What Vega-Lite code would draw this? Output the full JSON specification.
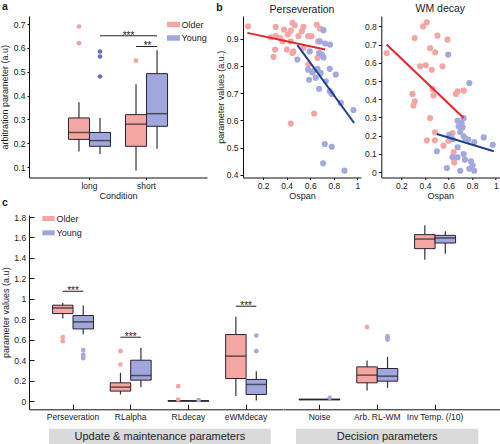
{
  "$schema": "https://vega.github.io/schema/vega-lite/v6.json",
  "background": "white",
  "padding": {"left": 0, "top": 1, "right": 0, "bottom": 0},
  "config": {
    "font": "Liberation Sans",
    "view": {"stroke": null},
    "axis": {"grid": false, "labelOverlap": false, "labelBound": false, "domainColor": "#111", "tickColor": "#111", "labelColor": "#1a1a1a", "titleColor": "#1a1a1a", "labelFontSize": 8.5, "titleFontSize": 9, "titleFontWeight": "normal", "domainWidth": 1, "tickWidth": 1},
    "title": {"fontSize": 10.5, "fontWeight": "normal", "color": "#1a1a1a"},
    "legend": {"labelFontSize": 9, "labelColor": "#1a1a1a"}
  },
  "datasets": {
    "a_box": [
      {"cond": "long", "grp": "Older", "lo": 0.165, "q1": 0.216, "med": 0.245, "q3": 0.306, "hi": 0.372},
      {"cond": "long", "grp": "Young", "lo": 0.155, "q1": 0.187, "med": 0.211, "q3": 0.245, "hi": 0.306},
      {"cond": "short", "grp": "Older", "lo": 0.085, "q1": 0.187, "med": 0.28, "q3": 0.32, "hi": 0.448},
      {"cond": "short", "grp": "Young", "lo": 0.177, "q1": 0.271, "med": 0.324, "q3": 0.492, "hi": 0.59}
    ],
    "a_out": [
      {"cond": "long", "grp": "Older", "v": 0.69},
      {"cond": "long", "grp": "Older", "v": 0.62},
      {"cond": "long", "grp": "Young", "v": 0.585},
      {"cond": "long", "grp": "Young", "v": 0.564},
      {"cond": "long", "grp": "Young", "v": 0.48},
      {"cond": "short", "grp": "Older", "v": 0.547}
    ],
    "a_sig": [
      {"pair": "s1", "cond": "long", "grp": "Young", "y": 0.651},
      {"pair": "s1", "cond": "short", "grp": "Young", "y": 0.651},
      {"pair": "s2", "cond": "short", "grp": "Older", "y": 0.606},
      {"pair": "s2", "cond": "short", "grp": "Young", "y": 0.606}
    ],
    "b1_pts": [
      {"grp": "Older", "ospan": 0.073, "val": 0.945}, {"grp": "Older", "ospan": 0.307, "val": 0.943},
      {"grp": "Older", "ospan": 0.378, "val": 0.933}, {"grp": "Older", "ospan": 0.449, "val": 0.958},
      {"grp": "Older", "ospan": 0.469, "val": 0.949}, {"grp": "Older", "ospan": 0.542, "val": 0.943},
      {"grp": "Older", "ospan": 0.655, "val": 0.951}, {"grp": "Older", "ospan": 0.683, "val": 0.937},
      {"grp": "Older", "ospan": 0.435, "val": 0.929}, {"grp": "Older", "ospan": 0.5, "val": 0.909},
      {"grp": "Older", "ospan": 0.582, "val": 0.909}, {"grp": "Older", "ospan": 0.61, "val": 0.909},
      {"grp": "Older", "ospan": 0.409, "val": 0.915}, {"grp": "Older", "ospan": 0.307, "val": 0.909},
      {"grp": "Older", "ospan": 0.344, "val": 0.902}, {"grp": "Older", "ospan": 0.265, "val": 0.905},
      {"grp": "Older", "ospan": 0.435, "val": 0.89}, {"grp": "Older", "ospan": 0.666, "val": 0.89},
      {"grp": "Older", "ospan": 0.302, "val": 0.86}, {"grp": "Older", "ospan": 0.401, "val": 0.86},
      {"grp": "Older", "ospan": 0.457, "val": 0.853}, {"grp": "Older", "ospan": 0.542, "val": 0.866},
      {"grp": "Older", "ospan": 0.661, "val": 0.829}, {"grp": "Older", "ospan": 0.288, "val": 0.833},
      {"grp": "Older", "ospan": 0.449, "val": 0.847}, {"grp": "Older", "ospan": 0.585, "val": 0.805},
      {"grp": "Older", "ospan": 0.633, "val": 0.625}, {"grp": "Older", "ospan": 0.435, "val": 0.588},
      {"grp": "Older", "ospan": 0.364, "val": 0.89}, {"grp": "Older", "ospan": 0.528, "val": 0.927},
      {"grp": "Young", "ospan": 0.712, "val": 0.931}, {"grp": "Young", "ospan": 0.681, "val": 0.89},
      {"grp": "Young", "ospan": 0.726, "val": 0.882}, {"grp": "Young", "ospan": 0.768, "val": 0.878},
      {"grp": "Young", "ospan": 0.596, "val": 0.853}, {"grp": "Young", "ospan": 0.675, "val": 0.847},
      {"grp": "Young", "ospan": 0.698, "val": 0.841}, {"grp": "Young", "ospan": 0.712, "val": 0.831},
      {"grp": "Young", "ospan": 0.491, "val": 0.823}, {"grp": "Young", "ospan": 0.582, "val": 0.786},
      {"grp": "Young", "ospan": 0.618, "val": 0.776}, {"grp": "Young", "ospan": 0.661, "val": 0.789},
      {"grp": "Young", "ospan": 0.689, "val": 0.774}, {"grp": "Young", "ospan": 0.765, "val": 0.789},
      {"grp": "Young", "ospan": 0.816, "val": 0.768}, {"grp": "Young", "ospan": 0.732, "val": 0.743},
      {"grp": "Young", "ospan": 0.59, "val": 0.749}, {"grp": "Young", "ospan": 0.647, "val": 0.756},
      {"grp": "Young", "ospan": 0.675, "val": 0.716}, {"grp": "Young", "ospan": 0.765, "val": 0.707},
      {"grp": "Young", "ospan": 0.782, "val": 0.697}, {"grp": "Young", "ospan": 0.859, "val": 0.664},
      {"grp": "Young", "ospan": 0.966, "val": 0.638}, {"grp": "Young", "ospan": 0.723, "val": 0.513},
      {"grp": "Young", "ospan": 0.782, "val": 0.503}, {"grp": "Young", "ospan": 0.709, "val": 0.442},
      {"grp": "Young", "ospan": 0.89, "val": 0.415}, {"grp": "Young", "ospan": 0.624, "val": 0.78}
    ],
    "b1_fit": [
      {"grp": "Older", "ospan": 0.067, "val": 0.921}, {"grp": "Older", "ospan": 0.726, "val": 0.86},
      {"grp": "Young", "ospan": 0.491, "val": 0.876}, {"grp": "Young", "ospan": 0.972, "val": 0.59}
    ],
    "b2_pts": [
      {"grp": "Older", "ospan": 0.075, "val": 0.654}, {"grp": "Older", "ospan": 0.313, "val": 0.736},
      {"grp": "Older", "ospan": 0.384, "val": 0.8}, {"grp": "Older", "ospan": 0.416, "val": 0.822},
      {"grp": "Older", "ospan": 0.506, "val": 0.749}, {"grp": "Older", "ospan": 0.591, "val": 0.727},
      {"grp": "Older", "ospan": 0.444, "val": 0.681}, {"grp": "Older", "ospan": 0.487, "val": 0.658},
      {"grp": "Older", "ospan": 0.359, "val": 0.581}, {"grp": "Older", "ospan": 0.407, "val": 0.586},
      {"grp": "Older", "ospan": 0.458, "val": 0.562}, {"grp": "Older", "ospan": 0.549, "val": 0.581},
      {"grp": "Older", "ospan": 0.294, "val": 0.429}, {"grp": "Older", "ospan": 0.313, "val": 0.388},
      {"grp": "Older", "ospan": 0.302, "val": 0.366}, {"grp": "Older", "ospan": 0.464, "val": 0.456},
      {"grp": "Older", "ospan": 0.472, "val": 0.421}, {"grp": "Older", "ospan": 0.662, "val": 0.429},
      {"grp": "Older", "ospan": 0.677, "val": 0.443}, {"grp": "Older", "ospan": 0.728, "val": 0.447},
      {"grp": "Older", "ospan": 0.444, "val": 0.297}, {"grp": "Older", "ospan": 0.484, "val": 0.218},
      {"grp": "Older", "ospan": 0.416, "val": 0.174}, {"grp": "Older", "ospan": 0.484, "val": 0.174},
      {"grp": "Older", "ospan": 0.557, "val": 0.145}, {"grp": "Older", "ospan": 0.6, "val": 0.172},
      {"grp": "Older", "ospan": 0.643, "val": 0.108}, {"grp": "Older", "ospan": 0.648, "val": 0.053},
      {"grp": "Older", "ospan": 0.634, "val": 0.214},
      {"grp": "Young", "ospan": 0.597, "val": 0.645}, {"grp": "Young", "ospan": 0.776, "val": 0.489},
      {"grp": "Young", "ospan": 0.677, "val": 0.282}, {"grp": "Young", "ospan": 0.711, "val": 0.269},
      {"grp": "Young", "ospan": 0.685, "val": 0.251}, {"grp": "Young", "ospan": 0.719, "val": 0.245},
      {"grp": "Young", "ospan": 0.699, "val": 0.22}, {"grp": "Young", "ospan": 0.606, "val": 0.205},
      {"grp": "Young", "ospan": 0.634, "val": 0.181}, {"grp": "Young", "ospan": 0.728, "val": 0.196},
      {"grp": "Young", "ospan": 0.739, "val": 0.187}, {"grp": "Young", "ospan": 0.767, "val": 0.178},
      {"grp": "Young", "ospan": 0.818, "val": 0.165}, {"grp": "Young", "ospan": 0.898, "val": 0.19},
      {"grp": "Young", "ospan": 0.974, "val": 0.15}, {"grp": "Young", "ospan": 0.501, "val": 0.114},
      {"grp": "Young", "ospan": 0.677, "val": 0.136}, {"grp": "Young", "ospan": 0.634, "val": 0.081},
      {"grp": "Young", "ospan": 0.677, "val": 0.081}, {"grp": "Young", "ospan": 0.728, "val": 0.099},
      {"grp": "Young", "ospan": 0.739, "val": 0.068}, {"grp": "Young", "ospan": 0.79, "val": 0.059},
      {"grp": "Young", "ospan": 0.804, "val": 0.037}, {"grp": "Young", "ospan": 0.776, "val": 0.018},
      {"grp": "Young", "ospan": 0.818, "val": 0.007}, {"grp": "Young", "ospan": 0.699, "val": 0.007},
      {"grp": "Young", "ospan": 0.586, "val": 0.022}, {"grp": "Young", "ospan": 0.728, "val": 0.297}
    ],
    "b2_fit": [
      {"grp": "Older", "ospan": 0.075, "val": 0.7}, {"grp": "Older", "ospan": 0.728, "val": 0.297},
      {"grp": "Young", "ospan": 0.501, "val": 0.209}, {"grp": "Young", "ospan": 0.983, "val": 0.114}
    ],
    "c1_box": [
      {"param": "Perseveration", "grp": "Older", "lo": 0.807, "q1": 0.856, "med": 0.911, "q3": 0.938, "hi": 0.96},
      {"param": "Perseveration", "grp": "Young", "lo": 0.655, "q1": 0.706, "med": 0.775, "q3": 0.837, "hi": 0.934},
      {"param": "RLalpha", "grp": "Older", "lo": 0.065, "q1": 0.098, "med": 0.137, "q3": 0.179, "hi": 0.277},
      {"param": "RLalpha", "grp": "Young", "lo": 0.137, "q1": 0.205, "med": 0.25, "q3": 0.4, "hi": 0.521},
      {"param": "RLdecay", "grp": "Older", "lo": 0, "q1": 0, "med": 0.002, "q3": 0.004, "hi": 0.006},
      {"param": "RLdecay", "grp": "Young", "lo": 0, "q1": 0, "med": 0.002, "q3": 0.003, "hi": 0.005},
      {"param": "eWMdecay", "grp": "Older", "lo": 0.049, "q1": 0.221, "med": 0.44, "q3": 0.651, "hi": 0.824},
      {"param": "eWMdecay", "grp": "Young", "lo": 0.007, "q1": 0.065, "med": 0.163, "q3": 0.212, "hi": 0.293}
    ],
    "c1_out": [
      {"param": "Perseveration", "grp": "Older", "v": 0.625}, {"param": "Perseveration", "grp": "Older", "v": 0.586},
      {"param": "Perseveration", "grp": "Young", "v": 0.5}, {"param": "Perseveration", "grp": "Young", "v": 0.455},
      {"param": "Perseveration", "grp": "Young", "v": 0.435}, {"param": "Perseveration", "grp": "Young", "v": 0.42},
      {"param": "RLalpha", "grp": "Older", "v": 0.488}, {"param": "RLalpha", "grp": "Older", "v": 0.358},
      {"param": "RLdecay", "grp": "Older", "v": 0.146}, {"param": "RLdecay", "grp": "Older", "v": 0.016},
      {"param": "RLdecay", "grp": "Young", "v": 0.01},
      {"param": "eWMdecay", "grp": "Young", "v": 0.641}, {"param": "eWMdecay", "grp": "Young", "v": 0.488}
    ],
    "c1_sig": [
      {"param": "Perseveration", "grp": "Older", "y": 1.074}, {"param": "Perseveration", "grp": "Young", "y": 1.074},
      {"param": "RLalpha", "grp": "Older", "y": 0.625}, {"param": "RLalpha", "grp": "Young", "y": 0.625},
      {"param": "eWMdecay", "grp": "Older", "y": 0.928}, {"param": "eWMdecay", "grp": "Young", "y": 0.928}
    ],
    "c1_star": [
      {"param": "Perseveration", "y": 1.074, "label": "***"},
      {"param": "RLalpha", "y": 0.625, "label": "***"},
      {"param": "eWMdecay", "y": 0.928, "label": "***"}
    ],
    "c2_box": [
      {"param": "Noise", "grp": "Older", "lo": 0.012, "q1": 0.013, "med": 0.016, "q3": 0.018, "hi": 0.02},
      {"param": "Noise", "grp": "Young", "lo": 0.012, "q1": 0.013, "med": 0.016, "q3": 0.018, "hi": 0.02},
      {"param": "Arb. RL-WM", "grp": "Older", "lo": 0.104, "q1": 0.179, "med": 0.254, "q3": 0.335, "hi": 0.397},
      {"param": "Arb. RL-WM", "grp": "Young", "lo": 0.13, "q1": 0.195, "med": 0.244, "q3": 0.319, "hi": 0.433},
      {"param": "Inv Temp. (/10)", "grp": "Older", "lo": 1.383, "q1": 1.491, "med": 1.585, "q3": 1.628, "hi": 1.719},
      {"param": "Inv Temp. (/10)", "grp": "Young", "lo": 1.442, "q1": 1.546, "med": 1.595, "q3": 1.621, "hi": 1.66}
    ],
    "c2_out": [
      {"param": "Noise", "grp": "Young", "v": 0.033},
      {"param": "Arb. RL-WM", "grp": "Older", "v": 0.723},
      {"param": "Arb. RL-WM", "grp": "Young", "v": 0.635},
      {"param": "Arb. RL-WM", "grp": "Young", "v": 0.618},
      {"param": "Arb. RL-WM", "grp": "Young", "v": 0.602}
    ]
  },
  "vconcat": [
    {
      "hconcat": [
        {
          "width": 178,
          "height": 161.5,
          "title": {"text": "a", "anchor": "start", "frame": "group", "dx": -27, "offset": 4, "fontWeight": "bold", "fontSize": 10.5},
          "layer": [
            {
              "data": {"name": "a_box"},
              "mark": {"type": "rule", "color": "#333", "strokeWidth": 1.2},
              "encoding": {
                "x": {"field": "cond", "type": "nominal", "title": "Condition", "scale": {"domain": ["long", "short"], "paddingInner": 0, "paddingOuter": 0.56}, "axis": {"labelAngle": 0, "tickSize": 2, "labelPadding": 2, "titlePadding": 1}},
                "xOffset": {"field": "grp", "type": "nominal", "scale": {"domain": ["Older", "Young"], "paddingInner": 0, "paddingOuter": 0.357}},
                "y": {"field": "lo", "type": "quantitative", "title": "arbitration parameter (a.u)", "scale": {"domain": [0.056, 0.734], "nice": false, "zero": false}, "axis": {"values": [0.1, 0.2, 0.3, 0.4, 0.5, 0.6, 0.7], "tickCount": 30, "labelOverlap": false, "format": "~g", "tickSize": 2, "labelPadding": 2, "titlePadding": 4}},
                "y2": {"field": "hi"}
              }
            },
            {
              "data": {"name": "a_box"},
              "mark": {"type": "bar", "stroke": "#2b2233", "strokeWidth": 1},
              "encoding": {
                "x": {"field": "cond", "type": "nominal", "title": "Condition"},
                "xOffset": {"field": "grp", "type": "nominal"},
                "y": {"field": "q1", "type": "quantitative", "title": "arbitration parameter (a.u)"},
                "y2": {"field": "q3"},
                "fill": {"field": "grp", "type": "nominal", "scale": {"domain": ["Older", "Young"], "range": ["#F4A6A3", "#A0A7DC"]}, "legend": {"orient": "none", "legendX": 138, "legendY": 2, "title": null, "symbolType": "M-1,-0.42H1V0.42H-1Z", "symbolSize": 169, "symbolStrokeWidth": 0, "symbolOpacity": 1, "rowPadding": 1.5, "labelOffset": 1.5, "padding": 0}}
              }
            },
            {
              "data": {"name": "a_box"},
              "mark": {"type": "tick", "color": "#222", "thickness": 1.5, "size": 21},
              "encoding": {
                "x": {"field": "cond", "type": "nominal", "title": "Condition"},
                "xOffset": {"field": "grp", "type": "nominal"},
                "y": {"field": "med", "type": "quantitative", "title": "arbitration parameter (a.u)"}
              }
            },
            {
              "data": {"name": "a_out"},
              "mark": {"type": "point", "filled": true, "size": 22, "opacity": 1},
              "encoding": {
                "x": {"field": "cond", "type": "nominal", "title": "Condition"},
                "xOffset": {"field": "grp", "type": "nominal"},
                "y": {"field": "v", "type": "quantitative", "title": "arbitration parameter (a.u)"},
                "color": {"field": "grp", "type": "nominal", "scale": {"domain": ["Older", "Young"], "range": ["#F2A0A0", "#6C6FC2"]}, "legend": null}
              }
            },
            {
              "data": {"name": "a_sig"},
              "mark": {"type": "line", "color": "#222", "strokeWidth": 1},
              "encoding": {
                "x": {"field": "cond", "type": "nominal", "title": "Condition"},
                "xOffset": {"field": "grp", "type": "nominal"},
                "y": {"field": "y", "type": "quantitative", "title": "arbitration parameter (a.u)"},
                "detail": {"field": "pair"}
              }
            },
            {
              "data": {"values": [{"cond": "short", "y": 0.651, "label": "***"}]},
              "mark": {"type": "text", "fontSize": 10, "dx": -18, "dy": 3, "baseline": "alphabetic", "color": "#222"},
              "encoding": {
                "x": {"field": "cond", "type": "nominal", "title": "Condition"},
                "y": {"field": "y", "type": "quantitative", "title": "arbitration parameter (a.u)"},
                "text": {"field": "label"}
              }
            },
            {
              "data": {"values": [{"cond": "short", "y": 0.606, "label": "**"}]},
              "mark": {"type": "text", "fontSize": 10, "dx": 1, "dy": 3, "baseline": "alphabetic", "color": "#222"},
              "encoding": {
                "x": {"field": "cond", "type": "nominal", "title": "Condition"},
                "y": {"field": "y", "type": "quantitative", "title": "arbitration parameter (a.u)"},
                "text": {"field": "label"}
              }
            }
          ]
        },
        {
          "hconcat": [
            {
              "width": 118,
              "height": 161.5,
              "title": {"text": "Perseveration", "anchor": "middle", "frame": "group", "offset": 1},
              "layer": [
                {
                  "data": {"name": "b1_pts"},
                  "mark": {"type": "point", "filled": true, "size": 38, "opacity": 1},
                  "encoding": {
                    "x": {"field": "ospan", "type": "quantitative", "title": "Ospan", "scale": {"domain": [0.03, 1.03], "nice": false, "zero": false}, "axis": {"values": [0.2, 0.4, 0.6, 0.8, 1], "tickCount": 30, "labelOverlap": false, "format": "~g", "tickSize": 2, "labelPadding": 2, "titlePadding": 1}},
                    "y": {"field": "val", "type": "quantitative", "title": "parameter values (a.u.)", "scale": {"domain": [0.39, 0.983], "nice": false, "zero": false}, "axis": {"values": [0.4, 0.5, 0.6, 0.7, 0.8, 0.9], "tickCount": 30, "labelOverlap": false, "format": "~g", "tickSize": 3, "labelPadding": 2, "titlePadding": 1}},
                    "fill": {"field": "grp", "type": "nominal", "scale": {"domain": ["Older", "Young"], "range": ["#F4A6A4", "#A2A9DF"]}, "legend": null}
                  }
                },
                {
                  "data": {"name": "b1_fit"},
                  "mark": {"type": "line", "strokeWidth": 2},
                  "encoding": {
                    "x": {"field": "ospan", "type": "quantitative", "title": "Ospan"},
                    "y": {"field": "val", "type": "quantitative", "title": "parameter values (a.u.)"},
                    "stroke": {"field": "grp", "type": "nominal", "scale": {"domain": ["Older", "Young"], "range": ["#E3262B", "#203F90"]}, "legend": null}
                  }
                }
              ]
            },
            {
              "width": 118,
              "height": 161.5,
              "title": {"text": "WM decay", "anchor": "middle", "frame": "group", "offset": 2},
              "layer": [
                {
                  "data": {"name": "b2_pts"},
                  "mark": {"type": "point", "filled": true, "size": 38, "opacity": 1},
                  "encoding": {
                    "x": {"field": "ospan", "type": "quantitative", "title": "Ospan", "scale": {"domain": [0.03, 1.03], "nice": false, "zero": false}, "axis": {"values": [0.2, 0.4, 0.6, 0.8, 1], "tickCount": 30, "labelOverlap": false, "format": "~g", "tickSize": 2, "labelPadding": 2, "titlePadding": 1}},
                    "y": {"field": "val", "type": "quantitative", "title": null, "scale": {"domain": [-0.03, 0.857], "nice": false, "zero": false}, "axis": {"values": [0, 0.1, 0.2, 0.3, 0.4, 0.5, 0.6, 0.7, 0.8], "tickCount": 30, "labelOverlap": false, "format": "~g", "tickSize": 3, "labelPadding": 2}},
                    "fill": {"field": "grp", "type": "nominal", "scale": {"domain": ["Older", "Young"], "range": ["#F4A6A4", "#A2A9DF"]}, "legend": null}
                  }
                },
                {
                  "data": {"name": "b2_fit"},
                  "mark": {"type": "line", "strokeWidth": 2},
                  "encoding": {
                    "x": {"field": "ospan", "type": "quantitative", "title": "Ospan"},
                    "y": {"field": "val", "type": "quantitative", "title": null},
                    "stroke": {"field": "grp", "type": "nominal", "scale": {"domain": ["Older", "Young"], "range": ["#E3262B", "#203F90"]}, "legend": {"orient": "none", "legendX": 83, "legendY": 1.5, "title": null, "symbolType": "stroke", "symbolSize": 90, "symbolStrokeWidth": 2.2, "labelOffset": 2, "rowPadding": 1, "padding": 0}}
                  }
                }
              ]
            }
          ],
          "spacing": 20.3,
          "bounds": "flush",
          "title": {"text": "b", "anchor": "start", "frame": "bounds", "offset": -10, "fontWeight": "bold", "fontSize": 10.5},
          "resolve": {"scale": {"fill": "independent", "color": "independent", "stroke": "independent", "xOffset": "independent"}, "legend": {"fill": "independent", "color": "independent", "stroke": "independent"}}
        }
      ],
      "spacing": 9,
      "resolve": {"scale": {"fill": "independent", "color": "independent", "stroke": "independent", "xOffset": "independent"}, "legend": {"fill": "independent", "color": "independent", "stroke": "independent"}}
    },
    {
      "vconcat": [
        {
          "hconcat": [
            {
              "width": 253.5,
              "height": 194.3,
              "title": {"text": "c", "anchor": "start", "frame": "group", "dx": -27, "offset": 4, "fontWeight": "bold", "fontSize": 10.5},
              "layer": [
                {
                  "data": {"name": "c1_box"},
                  "mark": {"type": "rule", "color": "#333", "strokeWidth": 1.2},
                  "encoding": {
                    "x": {"field": "param", "type": "nominal", "title": null, "scale": {"domain": ["Perseveration", "RLalpha", "RLdecay", "eWMdecay"], "paddingInner": 0, "paddingOuter": 0.197, "align": 0.667}, "axis": {"labelAngle": 0, "tickSize": -5, "labelPadding": 8.5}},
                    "xOffset": {"field": "grp", "type": "nominal", "scale": {"domain": ["Older", "Young"], "paddingInner": 0, "paddingOuter": 0.41}},
                    "y": {"field": "lo", "type": "quantitative", "title": "parameter values (a.u)", "scale": {"domain": [-0.08, 1.82], "nice": false, "zero": false}, "axis": {"values": [0, 0.2, 0.4, 0.6, 0.8, 1, 1.2, 1.4, 1.6, 1.8], "tickCount": 30, "labelOverlap": false, "format": "~g", "tickSize": -5, "labelPadding": 8.3, "titlePadding": 3}},
                    "y2": {"field": "hi"}
                  }
                },
                {
                  "data": {"name": "c1_box"},
                  "mark": {"type": "bar", "stroke": "#2b2233", "strokeWidth": 1},
                  "encoding": {
                    "x": {"field": "param", "type": "nominal", "title": null},
                    "xOffset": {"field": "grp", "type": "nominal"},
                    "y": {"field": "q1", "type": "quantitative", "title": "parameter values (a.u)"},
                    "y2": {"field": "q3"},
                    "fill": {"field": "grp", "type": "nominal", "scale": {"domain": ["Older", "Young"], "range": ["#F4A6A3", "#A0A7DC"]}, "legend": {"orient": "none", "legendX": 13, "legendY": -3, "title": null, "symbolType": "M-1,-0.4H1V0.4H-1Z", "symbolSize": 155, "symbolStrokeWidth": 0, "symbolOpacity": 1, "rowPadding": 2.3, "labelOffset": 1.5, "padding": 0}}
                  }
                },
                {
                  "data": {"name": "c1_box"},
                  "mark": {"type": "tick", "color": "#222", "thickness": 1.5, "size": 20.5},
                  "encoding": {
                    "x": {"field": "param", "type": "nominal", "title": null},
                    "xOffset": {"field": "grp", "type": "nominal"},
                    "y": {"field": "med", "type": "quantitative", "title": "parameter values (a.u)"}
                  }
                },
                {
                  "data": {"name": "c1_out"},
                  "mark": {"type": "point", "filled": true, "size": 22, "opacity": 1},
                  "encoding": {
                    "x": {"field": "param", "type": "nominal", "title": null},
                    "xOffset": {"field": "grp", "type": "nominal"},
                    "y": {"field": "v", "type": "quantitative", "title": "parameter values (a.u)"},
                    "color": {"field": "grp", "type": "nominal", "scale": {"domain": ["Older", "Young"], "range": ["#F4A6A6", "#A4AAE0"]}, "legend": null}
                  }
                },
                {
                  "data": {"name": "c1_sig"},
                  "mark": {"type": "line", "color": "#222", "strokeWidth": 1},
                  "encoding": {
                    "x": {"field": "param", "type": "nominal", "title": null},
                    "xOffset": {"field": "grp", "type": "nominal"},
                    "y": {"field": "y", "type": "quantitative", "title": "parameter values (a.u)"},
                    "detail": {"field": "param"}
                  }
                },
                {
                  "data": {"name": "c1_star"},
                  "mark": {"type": "text", "fontSize": 10, "dy": 3, "baseline": "alphabetic", "color": "#222"},
                  "encoding": {
                    "x": {"field": "param", "type": "nominal", "title": null},
                    "y": {"field": "y", "type": "quantitative", "title": "parameter values (a.u)"},
                    "text": {"field": "label"}
                  }
                }
              ]
            },
            {
              "width": 216.5,
              "height": 194.3,
              "layer": [
                {
                  "data": {"name": "c2_box"},
                  "mark": {"type": "rule", "color": "#333", "strokeWidth": 1.2},
                  "encoding": {
                    "x": {"field": "param", "type": "nominal", "title": null, "scale": {"domain": ["Noise", "Arb. RL-WM", "Inv Temp. (/10)"], "paddingInner": 0, "paddingOuter": 0.373, "align": 0.176}, "axis": {"labelAngle": 0, "tickSize": -5, "labelPadding": 8.5}},
                    "xOffset": {"field": "grp", "type": "nominal", "scale": {"domain": ["Older", "Young"], "paddingInner": 0, "paddingOuter": 0.41}},
                    "y": {"field": "lo", "type": "quantitative", "scale": {"domain": [-0.08, 1.82], "nice": false, "zero": false}, "axis": null},
                    "y2": {"field": "hi"}
                  }
                },
                {
                  "data": {"name": "c2_box"},
                  "mark": {"type": "bar", "stroke": "#2b2233", "strokeWidth": 1},
                  "encoding": {
                    "x": {"field": "param", "type": "nominal", "title": null},
                    "xOffset": {"field": "grp", "type": "nominal"},
                    "y": {"field": "q1", "type": "quantitative", "axis": null},
                    "y2": {"field": "q3"},
                    "fill": {"field": "grp", "type": "nominal", "scale": {"domain": ["Older", "Young"], "range": ["#F4A6A3", "#A0A7DC"]}, "legend": null}
                  }
                },
                {
                  "data": {"name": "c2_box"},
                  "mark": {"type": "tick", "color": "#222", "thickness": 1.5, "size": 20.5},
                  "encoding": {
                    "x": {"field": "param", "type": "nominal", "title": null},
                    "xOffset": {"field": "grp", "type": "nominal"},
                    "y": {"field": "med", "type": "quantitative", "axis": null}
                  }
                },
                {
                  "data": {"name": "c2_out"},
                  "mark": {"type": "point", "filled": true, "size": 22, "opacity": 1},
                  "encoding": {
                    "x": {"field": "param", "type": "nominal", "title": null},
                    "xOffset": {"field": "grp", "type": "nominal"},
                    "y": {"field": "v", "type": "quantitative", "axis": null},
                    "color": {"field": "grp", "type": "nominal", "scale": {"domain": ["Older", "Young"], "range": ["#F4A6A6", "#A4AAE0"]}, "legend": null}
                  }
                }
              ]
            }
          ],
          "spacing": 0,
          "bounds": "flush",
          "resolve": {"scale": {"fill": "independent", "color": "independent", "stroke": "independent", "xOffset": "independent"}, "legend": {"fill": "independent", "color": "independent", "stroke": "independent"}}
        },
        {
          "hconcat": [
            {"width": 19.5, "height": 16, "data": {"values": [{"t": ""}]}, "mark": {"type": "text"}, "encoding": {"text": {"field": "t"}}},
            {"width": 221.7, "height": 16, "view": {"fill": "#dadada", "stroke": null}, "data": {"values": [{"label": "Update & maintenance parameters"}]}, "mark": {"type": "text", "fontSize": 11, "color": "#222", "baseline": "middle"}, "encoding": {"text": {"field": "label"}}},
            {"width": 25, "height": 16, "data": {"values": [{"t": ""}]}, "mark": {"type": "text"}, "encoding": {"text": {"field": "t"}}},
            {"width": 182.3, "height": 16, "view": {"fill": "#dadada", "stroke": null}, "data": {"values": [{"label": "Decision parameters"}]}, "mark": {"type": "text", "fontSize": 11, "color": "#222", "baseline": "middle"}, "encoding": {"text": {"field": "label"}}}
          ],
          "spacing": 0,
          "bounds": "flush"
        }
      ],
      "spacing": 6.7,
      "resolve": {"scale": {"fill": "independent", "color": "independent", "stroke": "independent", "xOffset": "independent"}, "legend": {"fill": "independent", "color": "independent", "stroke": "independent"}}
    }
  ],
  "spacing": -3,
  "resolve": {"scale": {"fill": "independent", "color": "independent", "stroke": "independent", "xOffset": "independent"}, "legend": {"fill": "independent", "color": "independent", "stroke": "independent"}}
}
